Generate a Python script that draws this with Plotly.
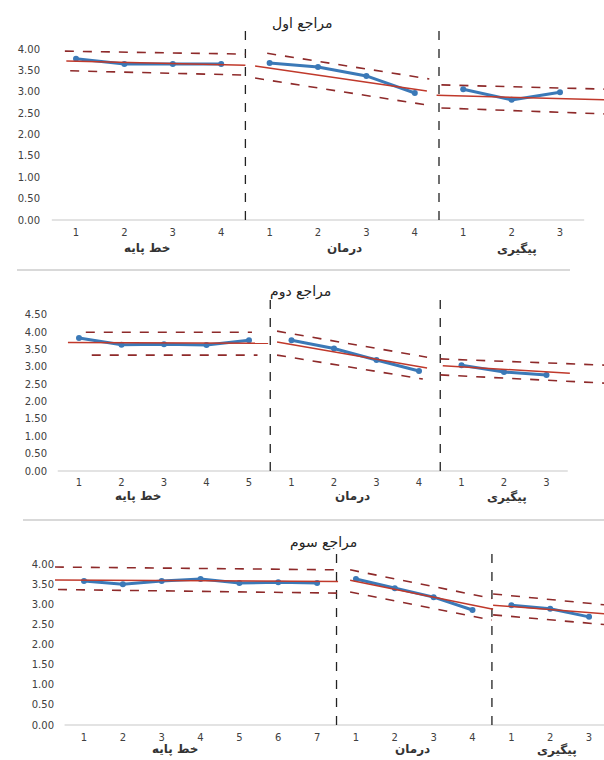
import plotly.graph_objects as go

W, H = 604, 760

# ---------------- data ----------------
phase_names = ["خط پایه", "درمان", "پیگیری"]
titles = ["مراجع اول", "مراجع دوم", "مراجع سوم"]

# client 1
c1_base = [3.77, 3.65, 3.65, 3.65]
c1_treat = [3.67, 3.58, 3.37, 2.97]
c1_follow = [3.06, 2.81, 2.99]
# trend lines: (x_start, x_end, y_start, y_end) in category-index units
c1_trend = [(-0.2, 3.5, 3.72, 3.62), (3.7, 7.25, 3.60, 3.02), (7.45, 10.95, 2.92, 2.81)]
c1_upper = [(-0.23, 3.5, 3.95, 3.88), (3.95, 7.3, 3.90, 3.30), (7.55, 10.95, 3.16, 3.06)]
c1_lower = [(-0.12, 3.5, 3.49, 3.39), (3.7, 7.25, 3.32, 2.69), (7.55, 10.95, 2.62, 2.48)]

# client 2
c2_base = [3.83, 3.64, 3.65, 3.63, 3.77]
c2_treat = [3.77, 3.53, 3.20, 2.88]
c2_follow = [3.05, 2.85, 2.77]
c2_trend = [(-0.26, 4.45, 3.70, 3.68), (4.66, 8.19, 3.72, 2.97), (8.56, 11.55, 3.03, 2.82)]
c2_upper = [(0.16, 4.07, 4.00, 4.00), (4.66, 8.19, 4.03, 3.28), (8.5, 12.4, 3.23, 3.05)]
c2_lower = [(0.30, 4.20, 3.34, 3.34), (4.66, 8.09, 3.34, 2.65), (8.5, 12.4, 2.77, 2.53)]

# client 3
c3_base = [3.58, 3.50, 3.58, 3.63, 3.53, 3.55, 3.53]
c3_treat = [3.63, 3.40, 3.18, 2.86]
c3_follow = [2.98, 2.89, 2.69]
c3_trend = [(-0.9, 6.54, 3.61, 3.57), (6.85, 10.53, 3.60, 2.88), (10.53, 13.5, 2.98, 2.76)]
c3_upper = [(-0.75, 6.54, 3.93, 3.86), (6.85, 10.5, 3.86, 3.15), (10.53, 13.5, 3.26, 2.98)]
c3_lower = [(-0.67, 6.54, 3.37, 3.28), (6.85, 10.5, 3.31, 2.61), (10.53, 13.5, 2.74, 2.49)]

y_max_ticks = [4.0, 4.5, 4.0]

clients = [
    (c1_base, c1_treat, c1_follow, c1_trend, c1_upper, c1_lower),
    (c2_base, c2_treat, c2_follow, c2_trend, c2_upper, c2_lower),
    (c3_base, c3_treat, c3_follow, c3_trend, c3_upper, c3_lower),
]

# ---------------- layout geometry (pixels) ----------------
geo = [
    dict(y0=220, ppu=42.75, top=18, bot=221, x0=76, sp=48.4, left=41, right=604, vtop=4.5, so=4),
    dict(y0=471, ppu=34.7, top=285, bot=472, x0=79, sp=42.5, left=48, right=604, vtop=4.93, so=3),
    dict(y0=725, ppu=40.2, top=535, bot=726, x0=84, sp=38.85, left=55, right=604, vtop=4.35, so=4),
]
title_pos = [(302, 24), (300, 291), (323, 542)]
group_pos = [[(147, 248), (344, 248), (517, 249)],
             [(138, 496), (352, 496), (507, 497)],
             [(175, 749), (412, 749), (557, 750)]]

BLUE = "#3b79b7"
RED = "#c0392b"
DRED = "#8e2a2a"

fig = go.Figure()
annotations = []
shapes = []

for i, (base, treat, follow, trend, upper, lower) in enumerate(clients):
    g = geo[i]
    ax = "" if i == 0 else str(i + 1)
    xa, ya = "x" + ax, "y" + ax
    phases = [base, treat, follow]
    n = sum(len(p) for p in phases)

    # baseline axis line
    fig.add_trace(go.Scatter(x=[-0.5, n - 0.5], y=[0, 0], mode="lines",
                             line=dict(color="#c8c8c8", width=1.2), xaxis=xa, yaxis=ya,
                             hoverinfo="skip", showlegend=False))
    # phase boundaries
    b = 0
    for p in phases[:-1]:
        b += len(p)
        fig.add_trace(go.Scatter(x=[b - 0.5, b - 0.5], y=[0, g["vtop"]], mode="lines",
                                 line=dict(color="#222222", width=1.3, dash="dash"),
                                 xaxis=xa, yaxis=ya, hoverinfo="skip", showlegend=False))
    # dashed bands
    for seg_list in (upper, lower):
        for (xs, xe, ys, ye) in seg_list:
            fig.add_trace(go.Scatter(x=[xs, xe], y=[ys, ye], mode="lines",
                                     line=dict(color=DRED, width=1.6, dash="dash"),
                                     xaxis=xa, yaxis=ya, hoverinfo="skip", showlegend=False))
    # data series
    start = 0
    for p in phases:
        xs = list(range(start, start + len(p)))
        fig.add_trace(go.Scatter(x=xs, y=p, mode="lines+markers",
                                 line=dict(color=BLUE, width=3),
                                 marker=dict(color=BLUE, size=6),
                                 xaxis=xa, yaxis=ya, showlegend=False))
        start += len(p)
    # trend lines
    for (xs, xe, ys, ye) in trend:
        fig.add_trace(go.Scatter(x=[xs, xe], y=[ys, ye], mode="lines",
                                 line=dict(color=RED, width=1.5),
                                 xaxis=xa, yaxis=ya, hoverinfo="skip", showlegend=False))

    ticktext = [str(k + 1) for p in phases for k in range(len(p))]
    xr = [(g["left"] - g["x0"]) / g["sp"], (g["right"] - g["x0"]) / g["sp"]]
    yr = [(g["y0"] - g["bot"]) / g["ppu"], (g["y0"] - g["top"]) / g["ppu"]]
    dom_y = [1 - g["bot"] / H, 1 - g["top"] / H]
    dom_x = [g["left"] / W, g["right"] / W]
    yticks = [k * 0.5 for k in range(int(y_max_ticks[i] / 0.5) + 1)]

    fig.update_layout(**{
        ("xaxis" + ax): dict(domain=dom_x, range=xr, anchor=ya, tickvals=list(range(n)),
                             ticktext=ticktext, showgrid=False, zeroline=False, showline=False,
                             ticks="", ticklabelstandoff=g["so"], automargin=False,
                             tickfont=dict(family="DejaVu Sans", size=10, color="#404040")),
        ("yaxis" + ax): dict(domain=dom_y, range=yr, anchor=xa, tickvals=yticks,
                             ticktext=["%.2f" % v for v in yticks], showgrid=False,
                             zeroline=False, showline=False, ticks="", automargin=False,
                             tickfont=dict(family="DejaVu Sans", size=10, color="#404040")),
    })

    tx, ty = title_pos[i]
    annotations.append(dict(x=tx / W, y=1 - ty / H, xref="paper", yref="paper", text=titles[i],
                            showarrow=False, xanchor="center", yanchor="middle",
                            font=dict(family="DejaVu Sans", size=14, color="#222222")))
    for name, (gx, gy) in zip(phase_names, group_pos[i]):
        annotations.append(dict(x=gx / W, y=1 - gy / H, xref="paper", yref="paper", text="<b>" + name + "</b>",
                                showarrow=False, xanchor="center", yanchor="middle",
                                font=dict(family="DejaVu Sans", size=12, color="#333333")))

# separators between panels
shapes.append(dict(type="line", xref="paper", yref="paper", x0=17 / W, x1=570 / W,
                   y0=1 - 270 / H, y1=1 - 270 / H, line=dict(color="#d9d9d9", width=2)))
shapes.append(dict(type="line", xref="paper", yref="paper", x0=23 / W, x1=1,
                   y0=1 - 520 / H, y1=1 - 520 / H, line=dict(color="#d9d9d9", width=2)))

fig.update_layout(width=W, height=H, margin=dict(l=0, r=0, t=0, b=0),
                  paper_bgcolor="white", plot_bgcolor="white",
                  annotations=annotations, shapes=shapes, showlegend=False)

fig.write_html("out.html", config={"displayModeBar": False},
               post_script="document.body.style.margin='0';document.body.style.overflow='hidden';")
